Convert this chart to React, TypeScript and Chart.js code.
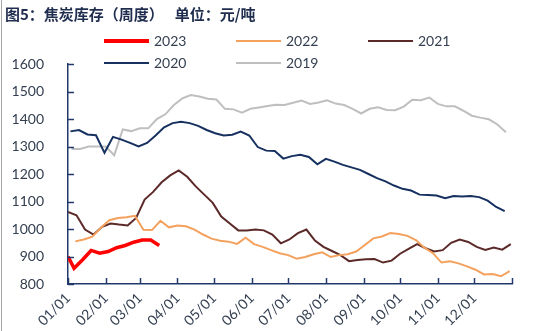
import React, { useEffect, useRef } from "react";
import { Chart, registerables } from "chart.js";

Chart.register(...registerables);

// ---------- data ----------
const titleText = "图5：焦炭库存（周度）　 单位：元/吨";
const seriesNames = ["2023", "2022", "2021", "2020", "2019"];
const monthLabels = ["01/01", "02/01", "03/01", "04/01", "05/01", "06/01", "07/01", "08/01", "09/01", "10/01", "11/01", "12/01"];
const monthStartDays = [0, 31, 59, 90, 120, 151, 181, 212, 243, 273, 304, 334, 365];
const yMin = 800;
const yMax = 1600;
const yStep = 100;

// first weekly reading (day of year) for each series
const start2023 = 5;
const start2022 = 6;
const start2021 = 0;
const start2020 = 2;
const start2019 = 3;
const lead2023 = 900; // reading shown at 01/01

const v2023 = [857, 888, 922, 912, 918, 932, 940, 952, 960, 960, 940];
const v2022 = [955, 962, 972, 1005, 1032, 1040, 1043, 1048, 997, 996, 1030, 1006, 1013, 1010, 998, 980, 965, 957, 954, 946, 968, 945, 935, 923, 912, 905, 892, 898, 908, 915, 898, 905, 908, 918, 942, 966, 973, 985, 982, 975, 960, 932, 912, 878, 883, 875, 864, 852, 835, 836, 828, 847];
const v2021 = [1062, 1050, 998, 980, 1008, 1020, 1016, 1013, 1040, 1107, 1135, 1170, 1195, 1213, 1190, 1155, 1125, 1095, 1045, 1020, 995, 995, 998, 995, 980, 948, 962, 985, 998, 958, 935, 920, 905, 883, 887, 890, 891, 878, 885, 910, 928, 945, 930, 918, 923, 950, 962, 953, 935, 924, 933, 925, 945];
const v2020 = [1355, 1360, 1344, 1341, 1277, 1335, 1325, 1313, 1300, 1313, 1340, 1370, 1385, 1390, 1385, 1375, 1360, 1348, 1340, 1343, 1354, 1340, 1298, 1285, 1284, 1256, 1265, 1270, 1262, 1235, 1255, 1245, 1233, 1224, 1215, 1200, 1185, 1173, 1158, 1146, 1140, 1125, 1124, 1122, 1112, 1120, 1118, 1120, 1116, 1103, 1080, 1065];
const v2019 = [1291, 1291, 1300, 1300, 1300, 1268, 1362, 1356, 1366, 1366, 1400, 1417, 1451, 1475, 1487, 1482, 1474, 1471, 1437, 1435, 1423, 1437, 1442, 1447, 1452, 1451, 1459, 1467, 1455, 1460, 1468, 1456, 1451, 1437, 1420, 1437, 1443, 1433, 1432, 1445, 1470, 1468, 1478, 1455, 1446, 1446, 1430, 1412, 1405, 1399, 1380, 1352];

// ---------- styles ----------
const colors = ["#FF0000", "#F4A15D", "#5B2A28", "#16305F", "#BFBFBF"];
const widths = [3.5, 2, 2, 2, 2];
const axisColor = "#23386A";
const textColor = "#333F50";
const fontFamily = "Lato, 'Open Sans', sans-serif";

const weekly = (start: number, values: number[]) =>
  values.map((v, i) => ({ x: start + 7 * i, y: v }));

const innerTicks = {
  id: "innerTicks",
  afterDatasetsDraw(chart: any) {
    const { ctx, chartArea, scales } = chart;
    const xs = scales.x;
    const ys = scales.y;
    ctx.save();
    ctx.strokeStyle = axisColor;
    ctx.lineWidth = 1.5;
    xs.ticks.forEach((t: any) => {
      const px = Math.round(xs.getPixelForValue(t.value)) + 0.5;
      ctx.beginPath();
      ctx.moveTo(px, chartArea.bottom);
      ctx.lineTo(px, chartArea.bottom - 6);
      ctx.stroke();
    });
    ys.ticks.forEach((t: any) => {
      const py = Math.round(ys.getPixelForValue(t.value)) + 0.5;
      ctx.beginPath();
      ctx.moveTo(chartArea.left, py);
      ctx.lineTo(chartArea.left + 6, py);
      ctx.stroke();
    });
    ctx.restore();
  },
};

export default function App() {
  const canvasRef = useRef<HTMLCanvasElement | null>(null);

  useEffect(() => {
    if (!canvasRef.current) return;
    const seriesData = [
      [{ x: 0, y: lead2023 }, ...weekly(start2023, v2023)],
      weekly(start2022, v2022),
      weekly(start2021, v2021),
      weekly(start2020, v2020),
      weekly(start2019, v2019),
    ];
    const chart = new Chart(canvasRef.current, {
      type: "line",
      data: {
        datasets: seriesNames.map((name, i) => ({
          label: name,
          data: seriesData[i],
          borderColor: colors[i],
          backgroundColor: colors[i],
          borderWidth: widths[i],
          pointRadius: 0,
          tension: 0,
          fill: false,
        })),
      },
      options: {
        animation: false,
        responsive: false,
        events: [],
        layout: { padding: { left: 0, right: 27, top: 64, bottom: 0 } },
        plugins: {
          legend: { display: false },
          title: { display: false },
          tooltip: { enabled: false },
        },
        scales: {
          x: {
            type: "linear",
            min: 0,
            max: 365,
            grid: { display: false, drawTicks: false },
            border: { display: true, color: axisColor, width: 1.5 },
            afterBuildTicks: (s: any) => {
              s.ticks = monthStartDays.map((v) => ({ value: v }));
            },
            afterFit: (s: any) => {
              s.height = 47;
            },
            ticks: {
              autoSkip: false,
              minRotation: 45,
              maxRotation: 45,
              padding: 6,
              color: textColor,
              font: { family: fontFamily, size: 14 },
              callback: (_v: any, i: number) => monthLabels[i] ?? "",
            },
          },
          y: {
            min: yMin,
            max: yMax,
            grid: { display: false, drawTicks: false },
            border: { display: true, color: axisColor, width: 1.5 },
            afterFit: (s: any) => {
              s.width = 68;
            },
            ticks: {
              stepSize: yStep,
              padding: 24,
              color: textColor,
              font: { family: fontFamily, size: 14 },
              callback: (v: any) => String(v),
            },
          },
        },
      },
      plugins: [innerTicks],
    } as any);
    return () => chart.destroy();
  }, []);

  return (
    <div
      style={{
        position: "fixed",
        left: 0,
        top: 0,
        width: 539,
        height: 331,
        background: "#ffffff",
        overflow: "hidden",
      }}
    >
      <canvas
        ref={canvasRef}
        width={539}
        height={331}
        style={{ position: "absolute", left: 0, top: 0, width: 539, height: 331 }}
      />
      <div
        style={{
          position: "absolute",
          left: 1,
          top: 0,
          width: 0,
          height: 331,
          borderLeft: "1px solid #a8a8a8",
        }}
      />
      <div
        style={{
          position: "absolute",
          left: 5,
          top: 6,
          fontFamily: "'Noto Sans CJK SC', sans-serif",
          fontWeight: 700,
          fontSize: 15,
          lineHeight: "15px",
          color: "#1F2D4E",
          whiteSpace: "pre",
        }}
      >
        {titleText}
      </div>
      {seriesNames.map((name, i) => {
        const col = i % 3;
        const row = Math.floor(i / 3);
        const left = 104 + col * 132;
        const cy = 41 + row * 21.8;
        return (
          <div key={name}>
            <div
              style={{
                position: "absolute",
                left,
                top: cy - widths[i] / 2,
                width: 45,
                height: widths[i],
                background: colors[i],
              }}
            />
            <div
              style={{
                position: "absolute",
                left: left + 50,
                top: cy - 9,
                height: 18,
                lineHeight: "18px",
                fontFamily,
                fontSize: 14,
                color: textColor,
                whiteSpace: "pre",
              }}
            >
              {name}
            </div>
          </div>
        );
      })}
    </div>
  );
}
